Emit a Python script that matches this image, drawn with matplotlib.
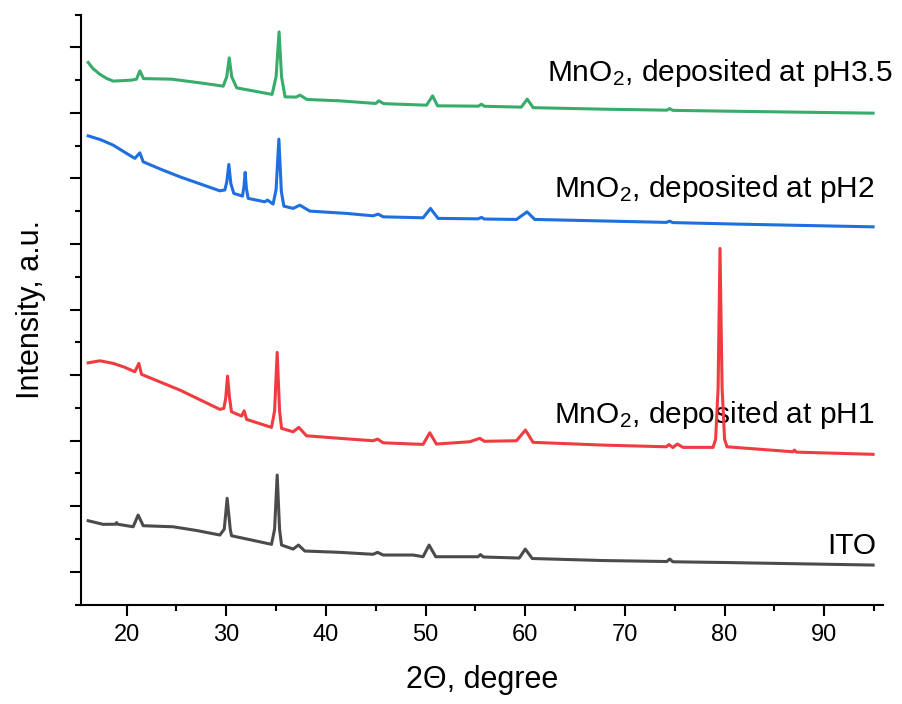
import matplotlib
matplotlib.use("Agg")
import matplotlib.pyplot as plt
from matplotlib.ticker import MultipleLocator

plt.rcParams['font.family'] = ['Liberation Sans', 'DejaVu Sans']
plt.rcParams['mathtext.fontset'] = 'custom'
plt.rcParams['mathtext.rm'] = 'Liberation Sans'
plt.rcParams['mathtext.it'] = 'Liberation Sans:italic'

# ---- data (2theta in degree, offset intensity in a.u.) ----
ito_x = [16.15, 17.65, 18.9, 19.0, 19.1, 20.66, 21.16, 21.67, 24.67, 27.0, 29.36, 29.8, 30.09, 30.4, 30.53,
         32.5, 34.54, 34.85, 35.11, 35.35, 35.55, 36.71, 37.25, 37.88, 41.39, 44.73, 45.18, 45.74, 48.75,
         49.75, 50.35, 51.02, 55.27, 55.5, 55.8, 59.4, 60.0, 60.7, 67.8, 74.2, 74.5, 74.8, 80.0, 94.9]
ito_y = [1278, 1223, 1225, 1250, 1225, 1186, 1365, 1202, 1186, 1130, 1060, 1150, 1620, 1150, 1049,
         985, 918, 1150, 1975, 1150, 907, 846, 907, 816, 796, 766, 796, 755, 755,
         729, 907, 729, 729, 762, 725, 709, 846, 702, 671, 656, 694, 652, 641, 602]

ph1_x = [16.15, 17.32, 18.66, 19.8, 20.83, 21.23, 21.50, 25.35, 29.36, 29.76, 29.95, 30.13, 30.33, 30.53,
         31.53, 31.80, 32.04, 34.54, 34.85, 35.11, 35.35, 35.55, 36.71, 37.28, 38.05, 41.39, 44.73,
         45.18, 45.74, 48.75, 49.75, 50.42, 51.09, 54.43, 55.44, 55.9, 59.12, 60.02, 60.78, 67.8,
         74.16, 74.42, 74.8, 75.26, 75.83, 78.84, 79.1, 79.35, 79.54, 79.75, 80.0, 80.24, 86.86,
         87.0, 87.2, 94.9]
ph1_y = [3687, 3718, 3678, 3620, 3550, 3678, 3511, 3271, 2977, 2992, 3150, 3485, 3150, 2940,
         2875, 2955, 2824, 2702, 2950, 3846, 2950, 2687, 2635, 2702, 2574, 2535, 2498,
         2524, 2467, 2448, 2443, 2620, 2448, 2483, 2535, 2490, 2498, 2661, 2474, 2432,
         2406, 2440, 2394, 2448, 2397, 2397, 2520, 3300, 5432, 3300, 2520, 2406, 2330,
         2356, 2325, 2291]

ph2_x = [16.15, 17.4, 18.66, 19.8, 20.83, 21.33, 21.67, 23.5, 25.35, 27.4, 29.36, 29.86, 30.06, 30.26, 30.46, 30.76,
         31.63, 31.78, 31.90, 32.02, 32.20, 33.87, 34.14, 34.70, 35.0, 35.28, 35.53, 35.78,
         36.71, 37.38, 38.39, 42.07, 44.73, 45.24, 45.74, 49.75, 50.49, 51.25, 55.27, 55.61,
         55.9, 59.12, 60.18, 60.95, 74.16, 74.49, 74.8, 81.18, 94.9]
ph2_y = [7149, 7090, 7007, 6900, 6805, 6890, 6753, 6635, 6524, 6415, 6310, 6324, 6450, 6713, 6420, 6271,
         6230, 6380, 6591, 6350, 6195, 6143, 6169, 6108, 6330, 7099, 6300, 6077,
         6042, 6092, 6001, 5966, 5929, 5955, 5914, 5899, 6042, 5890, 5883, 5905,
         5880, 5874, 5990, 5874, 5829, 5848, 5826, 5803, 5761]

ph35_x = [16.15, 16.6, 17.3, 18.0, 18.66, 20.5, 21.0, 21.33, 21.7, 24.5, 27.4, 29.7, 30.05, 30.3, 30.55, 31.05,
          34.6, 35.0, 35.3, 35.55, 35.9, 37.0, 37.4, 38.1, 41.4, 45.0, 45.3, 45.8, 50.1, 50.7,
          51.2, 55.3, 55.6, 55.9, 59.6, 60.2, 60.8, 67.8, 74.2, 74.5, 74.8, 80.0, 94.9]
ph35_y = [8269, 8180, 8090, 8025, 7984, 7999, 8014, 8140, 8022, 8014, 7957, 7907, 8050, 8339, 8050, 7881,
          7781, 8050, 8735, 8050, 7744, 7740, 7770, 7704, 7683, 7643, 7683, 7640, 7617, 7759,
          7607, 7602, 7632, 7600, 7587, 7709, 7579, 7556, 7541, 7564, 7538, 7526, 7495]

series = [
    (ito_x, ito_y, '#4b4b4b', 'ITO', 770),
    (ph1_x, ph1_y, '#f03c40', 'MnO$_\\mathregular{2}$, deposited at pH1', 2763),
    (ph2_x, ph2_y, '#1f6fdf', 'MnO$_\\mathregular{2}$, deposited at pH2', 6214),
    (ph35_x, ph35_y, '#37ac6b', 'MnO$_\\mathregular{2}$, deposited at pH3.5', 7988),
]
label_right = [95.2, 95.07, 95.05, 96.86]

fig = plt.figure(figsize=(9.02, 7.04), dpi=100)
ax = fig.add_axes([0.0895, 0.1413, 0.8895, 0.8381])

for (xs, ys, c, lab, ly), xr in zip(series, label_right):
    ax.plot(xs, ys, color=c, lw=2.2, zorder=3, solid_joinstyle='round')
    ax.text(xr, ly, lab, ha='right', va='baseline', fontsize=21.5, zorder=1, clip_on=False)

ax.set_xlim(15.4, 95.9)
ax.set_ylim(0, 9000)
ax.xaxis.set_major_locator(MultipleLocator(10))
ax.xaxis.set_minor_locator(MultipleLocator(5))
ax.yaxis.set_major_locator(MultipleLocator(1000, offset=500))
ax.yaxis.set_minor_locator(MultipleLocator(500))
ax.tick_params(axis='both', which='major', direction='out', length=8, width=1.5,
               labelsize=17, pad=6)
ax.tick_params(axis='both', which='minor', direction='out', length=4.5, width=1.5)
ax.tick_params(axis='y', which='both', labelleft=False)

for s in ['top', 'right']:
    ax.spines[s].set_visible(False)
for s in ['left', 'bottom']:
    ax.spines[s].set_linewidth(1.5)

ax.set_xlabel('2\u0398, degree', fontsize=22, labelpad=14)
ax.set_ylabel('Intensity, a.u.', fontsize=22, labelpad=17)

fig.savefig('out.png', dpi=100)
